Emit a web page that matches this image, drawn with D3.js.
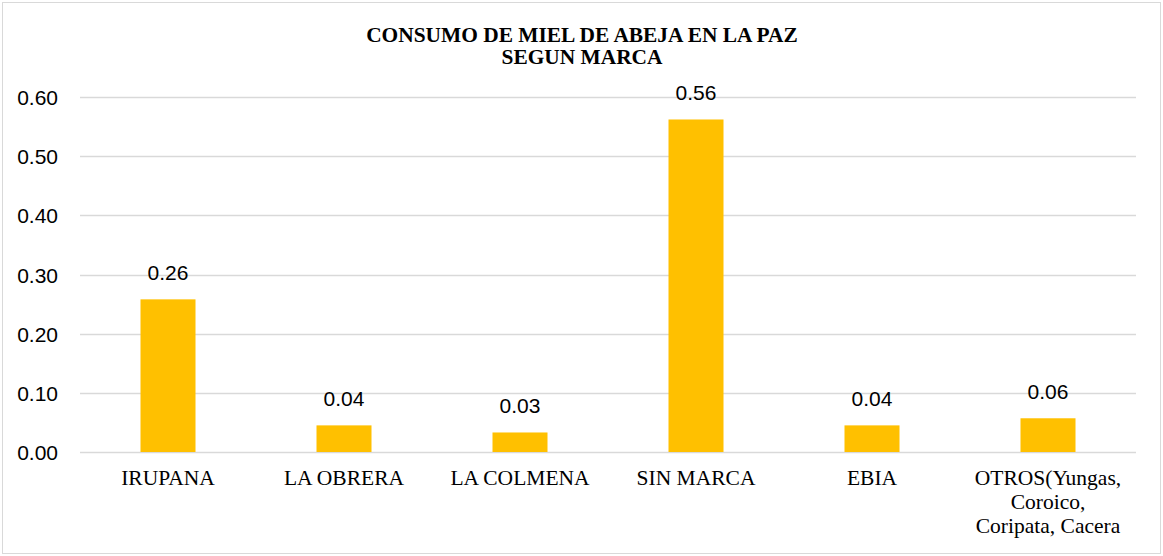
<!DOCTYPE html>
<html>
<head>
<meta charset="utf-8">
<script src="https://cdn.jsdelivr.net/npm/d3@7"></script>
<style>
  body { margin: 0; background: #fff; }
</style>
</head>
<body>
<svg id="chart" width="1163" height="556"></svg>
<script>
// data
var marcas = ["IRUPANA", "LA OBRERA", "LA COLMENA", "SIN MARCA", "EBIA", "OTROS(Yungas, Coroico, Coripata, Cacera"];
var marcaLines = [["IRUPANA"], ["LA OBRERA"], ["LA COLMENA"], ["SIN MARCA"], ["EBIA"], ["OTROS(Yungas,", "Coroico,", "Coripata, Cacera"]];
var consumo = [0.258, 0.045, 0.033, 0.562, 0.045, 0.057];
var yTicks = [0, 0.1, 0.2, 0.3, 0.4, 0.5, 0.6];
var titleLines = ["CONSUMO DE MIEL DE ABEJA EN LA PAZ", "SEGUN MARCA"];

var svg = d3.select("#chart");

// outer frame
svg.append("rect")
    .attr("x", 2.5).attr("y", 2.5)
    .attr("width", 1158).attr("height", 551)
    .attr("fill", "#fff")
    .attr("stroke", "#d9d9d9")
    .attr("stroke-width", 1);

var plotLeft = 80, plotRight = 1136, plotTop = 97, plotBottom = 452;

var x = d3.scaleBand().domain(marcas).range([plotLeft, plotRight]).paddingInner(0.6875).paddingOuter(0.34375);
var y = d3.scaleLinear().domain([0, 0.6]).range([plotBottom, plotTop]);

// gridlines
svg.append("g")
    .selectAll("line")
    .data(yTicks)
    .enter()
    .append("line")
    .attr("x1", plotLeft).attr("x2", plotRight)
    .attr("y1", d => Math.round(y(d)) + 0.5)
    .attr("y2", d => Math.round(y(d)) + 0.5)
    .attr("stroke", "#d9d9d9")
    .attr("stroke-width", 1.5);

// y axis labels
var yAxis = svg.append("g")
    .attr("transform", "translate(" + (plotLeft - 22) + ",0)")
    .call(d3.axisLeft(y).tickValues(yTicks).tickFormat(d3.format(".2f")).tickSize(0).tickPadding(0));
yAxis.select(".domain").remove();
yAxis.selectAll("text")
    .attr("font-family", "'Liberation Sans', Arial, sans-serif")
    .attr("font-size", "21px")
    .attr("fill", "#000")
    .attr("dy", "0.36em");

// bars
svg.append("g")
    .selectAll("rect")
    .data(marcas)
    .enter()
    .append("rect")
    .attr("x", d => x(d))
    .attr("y", (d, i) => y(consumo[i]))
    .attr("width", x.bandwidth())
    .attr("height", (d, i) => y(0) - y(consumo[i]))
    .attr("fill", "#ffc000");

// value labels
svg.append("g")
    .selectAll("text")
    .data(marcas)
    .enter()
    .append("text")
    .attr("x", d => x(d) + x.bandwidth() / 2)
    .attr("y", (d, i) => y(consumo[i]) - 19)
    .attr("text-anchor", "middle")
    .attr("font-family", "'Liberation Sans', Arial, sans-serif")
    .attr("font-size", "21px")
    .attr("fill", "#000")
    .text((d, i) => d3.format(".2f")(consumo[i]));

// category labels
var cat = svg.append("g")
    .selectAll("text")
    .data(marcas)
    .enter()
    .append("text")
    .attr("x", d => x(d) + x.bandwidth() / 2)
    .attr("y", 485)
    .attr("text-anchor", "middle")
    .attr("font-family", "'Liberation Serif', 'Times New Roman', serif")
    .attr("font-size", "21.5px")
    .attr("fill", "#000");
cat.selectAll("tspan")
    .data((d, i) => marcaLines[i])
    .enter()
    .append("tspan")
    .attr("x", function () { return d3.select(this.parentNode).attr("x"); })
    .attr("dy", (d, i) => i == 0 ? 0 : 24)
    .text(d => d);

// title
svg.append("text")
    .attr("x", 582)
    .attr("y", 42)
    .attr("text-anchor", "middle")
    .attr("font-family", "'Liberation Serif', 'Times New Roman', serif")
    .attr("font-weight", "bold")
    .attr("font-size", "21.4px")
    .attr("fill", "#000")
    .selectAll("tspan")
    .data(titleLines)
    .enter()
    .append("tspan")
    .attr("x", 582)
    .attr("dy", (d, i) => i == 0 ? 0 : 22)
    .text(d => d);
</script>
</body>
</html>
